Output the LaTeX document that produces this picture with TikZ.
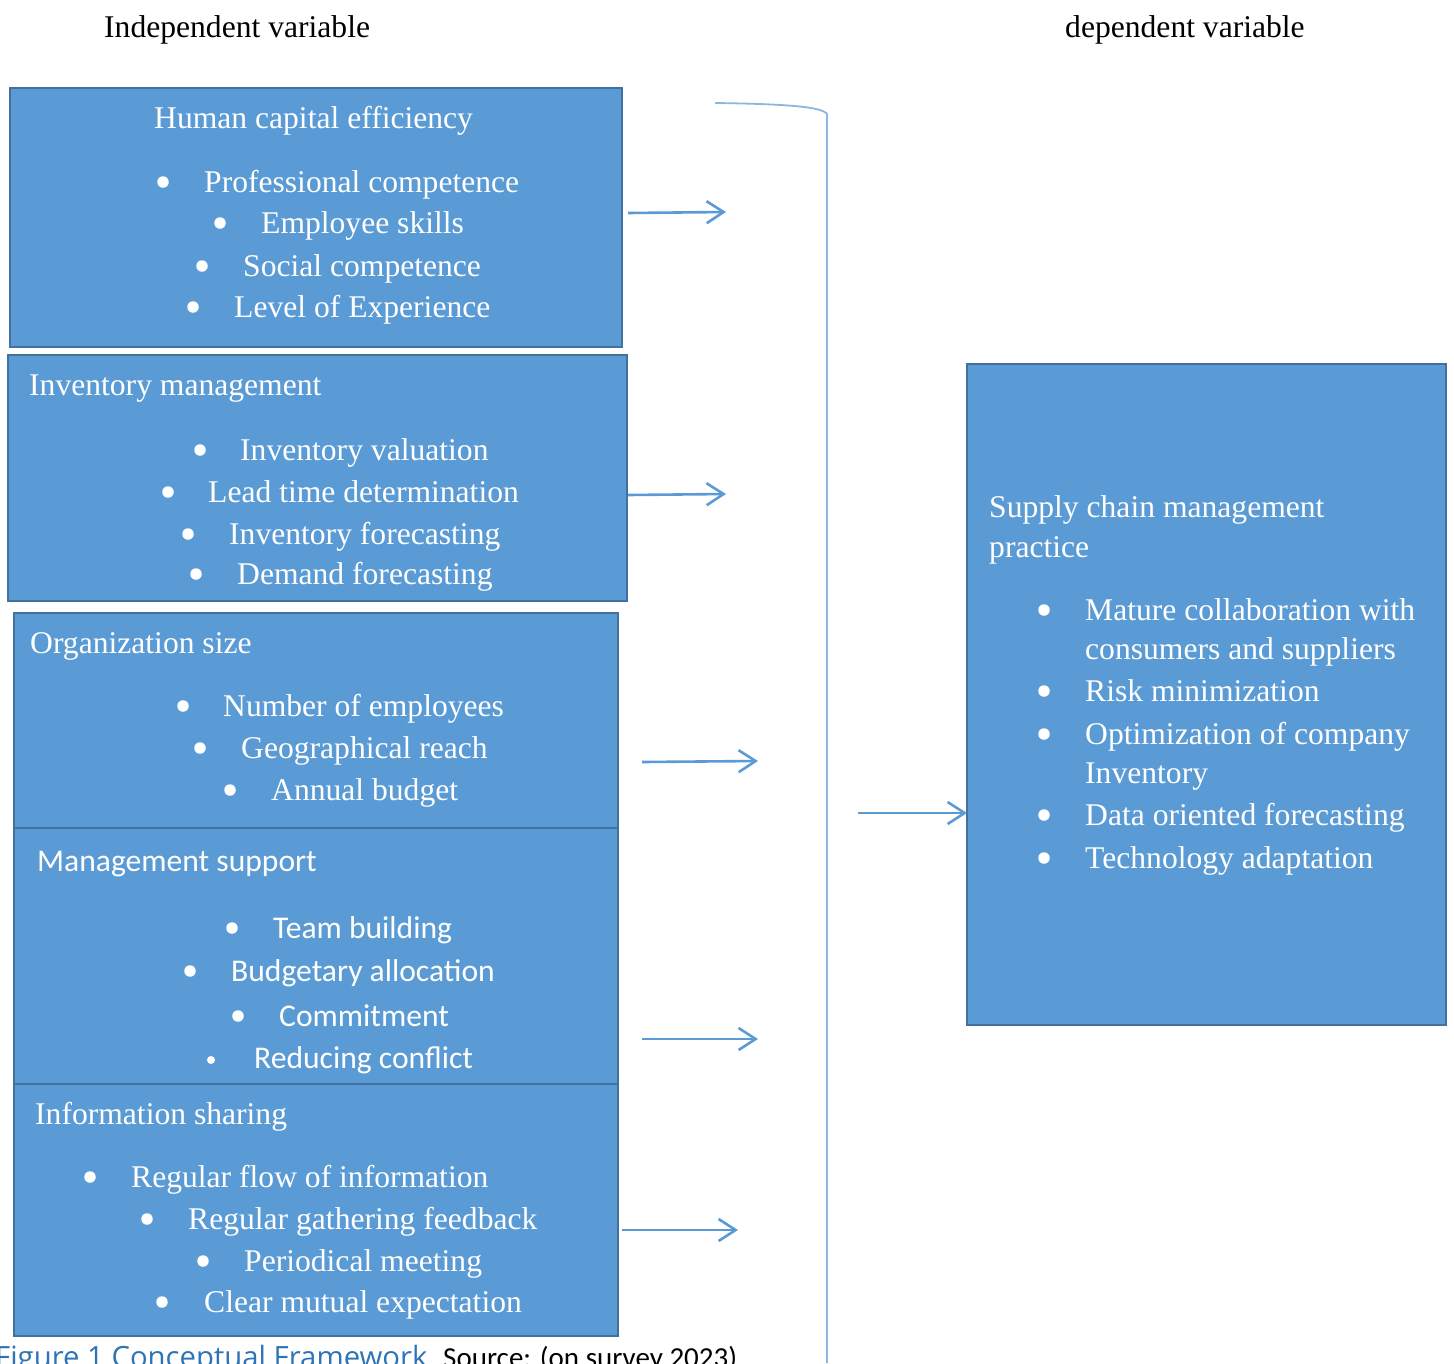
\documentclass[tikz,border=0pt]{standalone}
\usepackage{fontspec}
\setmainfont{Liberation Serif}
\newfontfamily\calfont{Carlito}
\newfontfamily\capfont{Open Sans}
\usetikzlibrary{arrows.meta}
\definecolor{boxfill}{HTML}{5B9BD5}
\definecolor{boxline}{HTML}{41719C}
\definecolor{arrowblue}{HTML}{5B9BD5}
\definecolor{bracketblue}{HTML}{8AB6E0}
\definecolor{capblue}{HTML}{2E74B5}
\begin{document}
\begin{tikzpicture}[x=1pt,y=-1pt,
  box/.style={draw=boxline, fill=boxfill, line width=2.8pt},
  txt/.style={anchor=base west, inner sep=0pt, text=white, font=\fontsize{31.6}{38}\selectfont},
  ctxt/.style={anchor=base west, inner sep=0pt, text=white, font=\calfont\fontsize{31.6}{38}\selectfont},
  bul/.style={circle, fill=white, inner sep=0pt, minimum size=11.5pt},
  head/.style={anchor=base west, inner sep=0pt, text=black, font=\fontsize{31.6}{38}\selectfont},
  conn/.style={draw=arrowblue, line width=2.6pt, -{Straight Barb[length=17pt,width=22pt,line width=2.6pt]}},
  brk/.style={draw=bracketblue, line width=1.8pt}]
\useasboundingbox (0,0) rectangle (1454,1363);

% headings
\node[head] (hind) at (104,37) {Independent variable};
\node[head] (hdep) at (1065,37) {dependent variable};

% boxes
\draw[box] (10,88) rectangle (622,347);
\draw[box] (8,355) rectangle (627,601);
\draw[box] (14,613) rectangle (618,828);
\draw[box] (14,828) rectangle (618,1084);
\draw[box] (14,1084) rectangle (618,1336);
\draw[box] (967,364) rectangle (1446,1025);

% box 1
\node[txt] (t1) at (154,128) {Human capital efficiency};
\node[bul] (b1a) at (163,182) {}; \node[txt] (i1a) at (204,192) {Professional competence};
\node[bul] (b1b) at (220,223) {}; \node[txt] (i1b) at (261,233) {Employee skills};
\node[bul] (b1c) at (202,266) {}; \node[txt] (i1c) at (243,276) {Social competence};
\node[bul] (b1d) at (193,307) {}; \node[txt] (i1d) at (234,317) {Level of Experience};

% box 2
\node[txt] (t2) at (29,395) {Inventory management};
\node[bul] (b2a) at (200,450) {}; \node[txt] (i2a) at (240,460) {Inventory valuation};
\node[bul] (b2b) at (168,492) {}; \node[txt] (i2b) at (208,502) {Lead time determination};
\node[bul] (b2c) at (188,534) {}; \node[txt] (i2c) at (229,544) {Inventory forecasting};
\node[bul] (b2d) at (196,574) {}; \node[txt] (i2d) at (237,584) {Demand forecasting};

% box 3
\node[txt] (t3) at (30,653) {Organization size};
\node[bul] (b3a) at (183,706) {}; \node[txt] (i3a) at (223,716) {Number of employees};
\node[bul] (b3b) at (200,748) {}; \node[txt] (i3b) at (241,758) {Geographical reach};
\node[bul] (b3c) at (230,790) {}; \node[txt] (i3c) at (271,800) {Annual budget};

% box 4
\node[ctxt] (t4) at (37,871) {Management support};
\node[bul] (b4a) at (232,928) {}; \node[ctxt] (i4a) at (273,938) {Team building};
\node[bul] (b4b) at (190,971) {}; \node[ctxt] (i4b) at (231,981) {Budgetary allocation};
\node[bul] (b4c) at (238,1016) {}; \node[ctxt] (i4c) at (279,1026) {Commitment};
\node[bul, minimum size=8pt] (b4d) at (211,1060) {}; \node[ctxt] (i4d) at (254,1068) {Reducing conflict};

% box 5
\node[txt] (t5) at (35,1124) {Information sharing};
\node[bul] (b5a) at (90,1177) {}; \node[txt] (i5a) at (131,1187) {Regular flow of information};
\node[bul] (b5b) at (147,1219) {}; \node[txt] (i5b) at (188,1229) {Regular gathering feedback};
\node[bul] (b5c) at (203,1261) {}; \node[txt] (i5c) at (244,1271) {Periodical meeting};
\node[bul] (b5d) at (162,1302) {}; \node[txt] (i5d) at (204,1312) {Clear mutual expectation};

% right box
\node[txt] (tr1) at (989,517) {Supply chain management};
\node[txt] (tr2) at (989,557) {practice};
\node[bul] (bra) at (1044,610) {}; \node[txt] (ira) at (1085,620) {Mature collaboration with};
\node[txt] (ira2) at (1085,659) {consumers and suppliers};
\node[bul] (brb) at (1044,691) {}; \node[txt] (irb) at (1085,701) {Risk minimization};
\node[bul] (brc) at (1044,734) {}; \node[txt] (irc) at (1085,744) {Optimization of company};
\node[txt] (irc2) at (1085,783) {Inventory};
\node[bul] (brd) at (1044,815) {}; \node[txt] (ird) at (1085,825) {Data oriented forecasting};
\node[bul] (bre) at (1044,858) {}; \node[txt] (ire) at (1085,868) {Technology adaptation};
\coordinate (rwest) at (967,813);

% bracket
\coordinate (k0) at (715,103);
\coordinate (k1) at (827,114);
\coordinate (k2) at (827,1363);
\draw[brk] (k0) .. controls (790,104) and (822,107) .. (k1) -- (k2);

% arrows
\coordinate (s1) at (628,213); \coordinate (e1) at (726,212);
\coordinate (s2) at (628,495); \coordinate (e2) at (726,494);
\coordinate (s3) at (642,762); \coordinate (e3) at (758,761);
\coordinate (s4) at (642,1039); \coordinate (e4) at (758,1039);
\coordinate (s5) at (622,1230); \coordinate (e5) at (738,1230);
\coordinate (s6) at (858,813);
\draw[conn] (s1) -- (e1);
\draw[conn] (s2) -- (e2);
\draw[conn] (s3) -- (e3);
\draw[conn] (s4) -- (e4);
\draw[conn] (s5) -- (e5);
\draw[conn] (s6) -- (rwest);

% caption
\node[anchor=base west, inner sep=0pt, text=capblue, font=\capfont\fontsize{29.3}{34}\selectfont] (cap) at (-5,1367) {Figure 1 Conceptual Framework};
\node[anchor=base west, inner sep=0pt, text=black, font=\calfont\fontsize{29}{34}\selectfont] (src) at (443,1367) {Source: (on survey 2023)};
\end{tikzpicture}
\end{document}
